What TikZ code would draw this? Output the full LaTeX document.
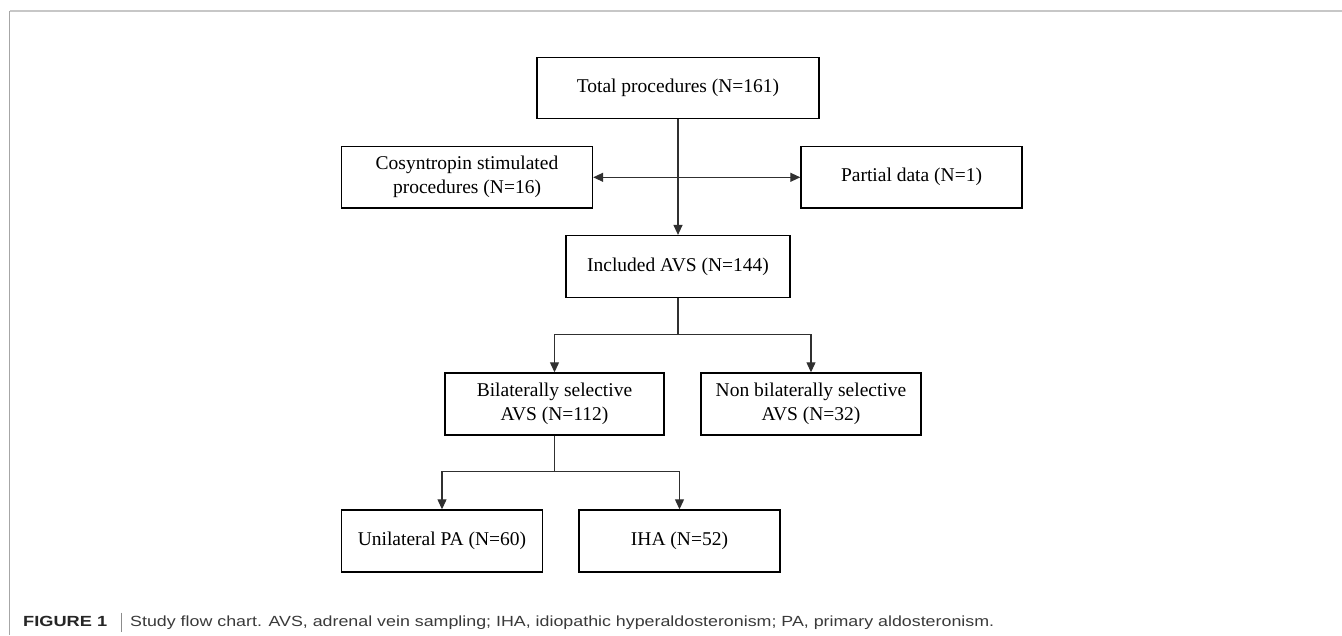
\documentclass[tikz,border=0pt]{standalone}
\usepackage{fontspec}
\usepackage{graphicx}
\setmainfont{Liberation Serif}
\newfontfamily\capfont{Liberation Sans}
\usetikzlibrary{arrows.meta}
\definecolor{linecol}{HTML}{303030}
\definecolor{capgray}{HTML}{3A3A3A}
\tikzset{
  fbox/.style={draw=black, line width=1.4pt, fill=white, align=center,
    inner sep=0pt, font=\fontsize{19.5}{24}\selectfont},
  conn/.style={draw=linecol, line width=1.2pt},
  arr/.style={conn, -{Triangle[width=9pt,length=10pt]}},
  darr/.style={conn, {Triangle[width=9pt,length=10pt]}-{Triangle[width=9pt,length=10pt]}},
  frame/.style={line width=1.4pt}
}
\begin{document}
\begin{tikzpicture}[x=1pt,y=-1pt]
\useasboundingbox (0,0) rectangle (1342,635);
\fill[white] (0,0) rectangle (1342,635);
% frame
\draw[frame, draw=black!22] (9.5,11) -- (1342,11);
\draw[frame, draw=black!35, line width=1.1pt] (9.5,11) -- (9.5,635);

% boxes
\node[fbox, minimum width=282pt, minimum height=61pt] (total) at (678,87.75) {Total procedures (N=161)};
\node[fbox, minimum width=251pt, minimum height=61.5pt] (cos) at (467,177.3) {Cosyntropin stimulated\\procedures (N=16)};
\node[fbox, minimum width=221pt, minimum height=61.5pt] (part) at (911.5,177.3) {Partial data (N=1)};
\node[fbox, minimum width=224pt, minimum height=62pt] (incl) at (678,266.6) {Included AVS (N=144)};
\node[fbox, minimum width=219pt, minimum height=62pt] (bil) at (554.5,404) {Bilaterally selective\\AVS (N=112)};
\node[fbox, minimum width=220pt, minimum height=62pt] (non) at (811,404) {Non bilaterally selective\\AVS (N=32)};
\node[fbox, minimum width=201pt, minimum height=62pt] (uni) at (442,541) {Unilateral PA (N=60)};
\node[fbox, minimum width=201pt, minimum height=62pt] (iha) at (679.5,541) {IHA (N=52)};

% connectors
\draw[arr] (total.south) -- (incl.north);
\draw[darr] (cos.east) -- (part.west);
\coordinate (j1) at (678,334.4);
\draw[conn] (incl.south) -- (j1);
\draw[arr] (j1) -| (bil.north);
\draw[arr] (j1) -| (non.north);
\coordinate (j2) at (554.5,471.7);
\draw[conn] (bil.south) -- (j2);
\draw[arr] (j2) -| (uni.north);
\draw[arr] (j2) -| (iha.north);

% caption
\node[anchor=base west, inner sep=0pt, text=black!85] (figlab) at (23,626.7)
  {\resizebox{84pt}{\height}{\capfont\fontsize{14.7}{16}\selectfont\bfseries FIGURE 1}};
\draw[draw=black!45, line width=0.7pt] (121,612.5) -- (121,631.5);
\node[anchor=base west, inner sep=0pt, text=capgray] (captxt) at (130,626.7)
  {\resizebox{864pt}{\height}{\capfont\fontsize{14.7}{16}\selectfont Study flow chart. AVS, adrenal vein sampling; IHA, idiopathic hyperaldosteronism; PA, primary aldosteronism.}};
\end{tikzpicture}
\end{document}
